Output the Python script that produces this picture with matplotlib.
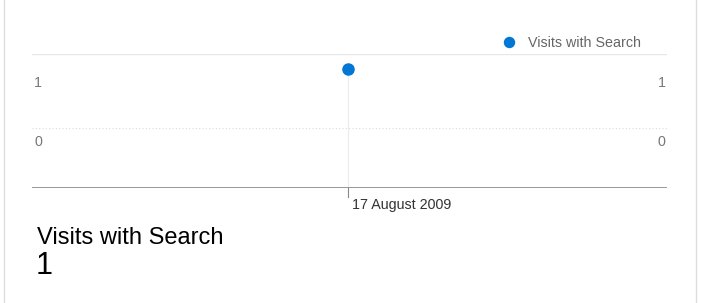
import matplotlib.pyplot as plt
from matplotlib.lines import Line2D
import matplotlib.transforms as mtransforms

plt.rcParams['font.family'] = ['Liberation Sans', 'DejaVu Sans']

# data
dates = ['17 August 2009']
visits = [1]
yticks = [0, 1]
series_name = 'Visits with Search'
total = sum(visits)

W, H = 701, 303
fig = plt.figure(figsize=(W / 100, H / 100), dpi=100)

# card border lines
fig.add_artist(Line2D([4 / W, 4 / W], [0, 1], color='#dddddd', lw=1))
fig.add_artist(Line2D([696 / W, 696 / W], [0, 1], color='#dddddd', lw=1))

ax = fig.add_axes([32 / W, (H - 188) / H, (667 - 32) / W, (188 - 54) / H])
ax.set_xlim(-1, 1.01)
ax.set_ylim(-1, 1.25)
for s in ax.spines.values():
    s.set_visible(False)
ax.set_xticks([])
ax.set_yticks([])

ax.axhline(1.25, color='#e8e8e8', lw=1)
ax.axhline(0, color='#dcdcdc', lw=0.8, ls=(0, (1, 2)))
ax.axhline(-1, color='#888888', lw=1.2)

xs = list(range(len(dates)))
# vertical hover line + tick
for x, v in zip(xs, visits):
    ax.plot([x, x], [-1, v], color='#ececec', lw=0.8, zorder=1)
    ax.plot([x, x], [-1, -1.15], color='#888888', lw=0.8, clip_on=False)
    ax.text(x, -1.28, ' ' + dates[x], ha='left', va='center', fontsize=10.3,
            color='#333333')

ax.plot(xs, visits, 'o', color='#0077d4', ms=8, zorder=3, label=series_name)

# y labels on both sides, just below the value line
off = mtransforms.offset_copy(ax.transData, fig=fig, y=-14, units='dots')
for t in yticks:
    ax.text(-0.993, t, str(t), ha='left', va='center', fontsize=10.3,
            color='#777777', transform=off)
    ax.text(1.006, t, str(t), ha='right', va='center', fontsize=10.3,
            color='#777777', transform=off)

ax.legend(loc='lower left', bbox_to_anchor=(454 / 635, 1.0 - 5 / 134),
          frameon=False, fontsize=10.3, labelcolor='#666666',
          handletextpad=0.35, borderaxespad=0.2, markerscale=0.9)

fig.text(37 / W, 1 - 238 / H, series_name, fontsize=17, color='#000000',
         va='center', ha='left')
fig.text(36 / W, 1 - 266 / H, str(total), fontsize=22, color='#000000',
         va='center', ha='left')

fig.savefig('out.png', dpi=100)
